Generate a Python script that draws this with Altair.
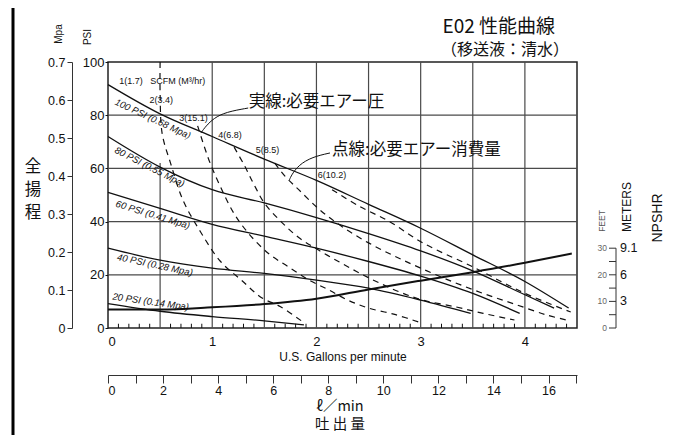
import altair as alt
import pandas as pd

# ---------------- values ----------------
gpm_tick_labels = [0, 1, 2, 3, 4]
psi_tick_labels = [0, 20, 40, 60, 80, 100]
mpa_tick_labels = [0, 0.1, 0.2, 0.3, 0.4, 0.5, 0.6, 0.7]
lpm_ticks = list(range(0, 18))
grid_gpm = [0.5, 1, 1.5, 2, 2.5, 3, 3.5, 4]
grid_gpm_top = [62, 100, 100, 100, 100, 100, 100, 100]
grid_psi = [20, 40, 60, 80]
minor_gpm = [i / 10 for i in range(1, 45) if i % 5]
npshr_feet_ticks = [0, 5, 10, 15, 20, 25, 30]
npshr_feet_labels = [0, 10, 20, 30]
npshr_meter_labels = ["3", "6", "9.1"]
npshr_meter_at = [10, 20, 30]

# solid curves: required air pressure (head in PSI vs U.S. GPM)
psi100_x = [0, 0.5, 1, 1.5, 2, 2.5, 3, 3.5, 4, 4.42]
psi100_y = [91.5, 80.5, 72, 63.5, 55.5, 46.5, 37.5, 27.5, 17.5, 7.5]
psi80_x = [0, 0.5, 1, 1.5, 2, 2.5, 3, 3.5, 4, 4.28]
psi80_y = [72, 60.5, 52, 47, 41.5, 35.5, 29, 21.5, 12.5, 7.5]
psi60_x = [0, 0.5, 1, 1.5, 2, 2.5, 3, 3.5, 3.95]
psi60_y = [51, 45, 39, 34.5, 30, 25, 19.5, 13, 5.5]
psi40_x = [0, 0.5, 1, 1.5, 2, 2.5, 3, 3.48]
psi40_y = [30, 25.5, 22.5, 20.5, 18, 15, 10.5, 5.5]
psi20_x = [0, 0.5, 1, 1.5, 1.88]
psi20_y = [9.2, 6.3, 4.3, 2.7, 1.2]
npshr_x = [0, 0.5, 1, 1.5, 2, 2.5, 3, 3.5, 4, 4.45]
npshr_y = [7, 7, 7.8, 9, 11, 14.5, 17.8, 21, 24.5, 28]

# dashed curves: air consumption
air1_x = [0.5, 0.5, 0.52, 0.6, 0.72, 0.89, 1.08, 1.28, 1.47, 1.66, 1.88]
air1_y = [100, 88, 73, 62, 48, 36, 25, 18, 11.5, 7.9, 2]
air2_x = [0.86, 0.97, 1.08, 1.21, 1.35, 1.54, 1.73, 1.93, 2.12, 2.3, 2.5, 2.76, 3.0]
air2_y = [76, 63, 53, 43, 35.5, 28, 23, 18, 14.3, 10.5, 7.5, 5, 2]
air3_x = [1.21, 1.31, 1.4, 1.5, 1.66, 1.83, 2.02, 2.22, 2.41, 2.6, 2.8, 3.02, 3.34, 3.6, 3.9]
air3_y = [68, 61, 54, 47, 40, 34, 29.3, 24.8, 20.7, 17, 13.5, 10.5, 7.9, 5.5, 3]
air4_x = [1.6, 1.7, 1.83, 2.03, 2.25, 2.5, 2.75, 3.0, 3.3, 3.6, 3.9, 4.2, 4.4]
air4_y = [62, 57, 52, 44.5, 38, 32, 27, 22.5, 17.5, 13, 9, 5, 3]
air5_x = [2.15, 2.4, 2.7, 3.02, 3.5, 3.99, 4.44]
air5_y = [52, 46, 40, 32, 23, 13.2, 6]

curve_label_text = ["100 PSI (0.68 Mpa)", "80 PSI (0.55 Mpa)", "60 PSI (0.41 Mpa)",
                    "40 PSI (0.28 Mpa)", "20 PSI (0.14 Mpa)"]
curve_label_x = [0.43, 0.40, 0.43, 0.45, 0.41]
curve_label_y = [78.6, 60.5, 42.5, 23.7, 9.8]
curve_label_angle = [25, 27, 17, 12, 8]

scfm_text = ["1(1.7)", "SCFM (M³/hr)", "2(3.4)", "3(15.1)", "4(6.8)", "5(8.5)", "6(10.2)"]
scfm_x = [0.22, 0.67, 0.51, 0.82, 1.17, 1.53, 2.15]
scfm_y = [92.9, 92.9, 85.7, 79, 72.6, 66.9, 57.5]

lead1_x = [1.345, 1.132, 1.016, 0.939, 0.891]
lead1_y = [82.7, 81.2, 78.9, 75.9, 73.3]
lead2_x = [2.13, 1.96, 1.83, 1.76, 1.74]
lead2_y = [65.8, 64.3, 61.3, 57.5, 55.6]

# ---------------- styling ----------------
W, H = 469, 266
SANS = "Liberation Sans"
JP = "Noto Sans CJK JP"
INK = "#111111"
GRID = "#4a4a4a"
LPM_PER_GPM = 3.78541

xs = alt.Scale(domain=[0, 4.5], nice=False, zero=False)
ys = alt.Scale(domain=[0, 100], nice=False, zero=False)
one = pd.DataFrame({"a": [0]})


def XQ(field="x", axis=None):
    return alt.X(field, type="quantitative", scale=xs, axis=axis)


def YQ(field="y", axis=None):
    return alt.Y(field, type="quantitative", scale=ys, axis=axis)


def curves_df(items):
    rows = []
    for name, xv, yv in items:
        for i, (a, b) in enumerate(zip(xv, yv)):
            rows.append({"s": name, "i": i, "x": a, "y": b})
    return pd.DataFrame(rows)


def px_text(text, px, py, size, font=SANS, angle=0, align="center", color=INK, baseline="middle", **kw):
    return alt.Chart(one).mark_text(text=text, fontSize=size, font=font, angle=angle,
                                    align=align, baseline=baseline, color=color, **kw).encode(
        x=alt.value(px), y=alt.value(py))


layers = []

# grid + main axes
layers.append(alt.Chart(pd.DataFrame({"x": grid_gpm, "y": [0] * len(grid_gpm), "y2": grid_gpm_top})).mark_rule(
    color=GRID, strokeWidth=1.2).encode(
    x=XQ("x", alt.Axis(orient="bottom", values=gpm_tick_labels, format="d", ticks=False, domain=False,
                       grid=False, labelFont=SANS, labelFontSize=13, labelColor=INK, labelPadding=7,
                       title="U.S. Gallons per minute", titleFont=SANS, titleFontSize=12,
                       titleFontWeight="normal", titleColor=INK, titlePadding=3)),
    y=YQ("y"), y2="y2:Q"))
layers.append(alt.Chart(pd.DataFrame({"y": grid_psi})).mark_rule(color=GRID, strokeWidth=1.2).encode(
    y=YQ("y", alt.Axis(orient="left", values=psi_tick_labels, format="d", tickSize=3, tickColor=INK,
                       domain=False, grid=False, labelFont=SANS, labelFontSize=13, labelColor=INK,
                       labelPadding=1, title=None))))

# Mpa axis
layers.append(alt.Chart(pd.DataFrame({"m": mpa_tick_labels})).mark_point(opacity=0).encode(
    y=alt.Y("m:Q", scale=alt.Scale(domain=[0, 0.7], nice=False, zero=False),
            axis=alt.Axis(orient="left", offset=36, values=mpa_tick_labels,
                          labelExpr="datum.value == 0 ? '0' : format(datum.value, '.1f')",
                          tickSize=5, tickColor="#333", domainColor="#333", domainWidth=1,
                          grid=False, labelFont=SANS, labelFontSize=12.5, labelColor=INK,
                          labelPadding=2, title=None))))

# l/min axis
layers.append(alt.Chart(pd.DataFrame({"l": lpm_ticks})).mark_point(opacity=0).encode(
    x=alt.X("l:Q", scale=alt.Scale(domain=[0, 4.5 * LPM_PER_GPM], nice=False, zero=False),
            axis=alt.Axis(orient="bottom", offset=47, values=lpm_ticks, format="d",
                          labelExpr="datum.value % 2 == 0 ? datum.label : ''",
                          tickSize=8, tickColor="#333", domainColor="#333", domainWidth=1.2,
                          grid=False, labelFont=SANS, labelFontSize=12.5, labelColor=INK,
                          labelPadding=1, title=None))))

# minor ticks inside bottom
layers.append(alt.Chart(pd.DataFrame({"x": minor_gpm, "y": [0] * len(minor_gpm),
                                      "y2": [1.6] * len(minor_gpm)})).mark_rule(
    color=INK, strokeWidth=1).encode(x=XQ("x"), y=YQ("y"), y2="y2:Q"))

# solid pressure curves
solid = curves_df([("100", psi100_x, psi100_y), ("80", psi80_x, psi80_y), ("60", psi60_x, psi60_y),
                   ("40", psi40_x, psi40_y), ("20", psi20_x, psi20_y)])
layers.append(alt.Chart(solid).mark_line(color=INK, strokeWidth=1.3, interpolate="monotone").encode(
    x=XQ(), y=YQ(), detail="s:N", order="i:Q"))

# NPSHR curve
layers.append(alt.Chart(curves_df([("npshr", npshr_x, npshr_y)])).mark_line(
    color=INK, strokeWidth=2, interpolate="monotone").encode(x=XQ(), y=YQ(), order="i:Q"))

# dashed air-consumption curves
dashed = curves_df([("a1", air1_x, air1_y), ("a2", air2_x, air2_y), ("a3", air3_x, air3_y),
                    ("a4", air4_x, air4_y), ("a5", air5_x, air5_y)])
layers.append(alt.Chart(dashed).mark_line(color=INK, strokeWidth=1.2, strokeDash=[6, 5],
                                          interpolate="catmull-rom").encode(
    x=XQ(), y=YQ(), detail="s:N", order="i:Q"))

# leader lines
layers.append(alt.Chart(curves_df([("l1", lead1_x, lead1_y), ("l2", lead2_x, lead2_y)])).mark_line(
    color=INK, strokeWidth=1, interpolate="basis").encode(x=XQ(), y=YQ(), detail="s:N", order="i:Q"))

# curve labels
layers.append(alt.Chart(pd.DataFrame({"t": curve_label_text, "x": curve_label_x, "y": curve_label_y,
                                      "a": curve_label_angle})).mark_text(
    font=SANS, fontSize=9.5, color=INK, fontStyle="italic").encode(
    x=XQ(), y=YQ(), text="t:N", angle=alt.Angle("a:Q", scale=None)))

# SCFM labels
layers.append(alt.Chart(pd.DataFrame({"t": scfm_text, "x": scfm_x, "y": scfm_y})).mark_text(
    font=SANS, fontSize=9, color=INK).encode(x=XQ(), y=YQ(), text="t:N"))

# Japanese annotations inside the plot
layers.append(alt.Chart(pd.DataFrame({"t": ["実線:必要エアー圧", "点線:必要エアー消費量"],
                                      "x": [1.35, 2.15], "y": [85, 66.9]})).mark_text(
    font=JP, fontSize=16.5, color=INK, align="left").encode(x=XQ(), y=YQ(), text="t:N"))

# NPSHR axis
layers.append(alt.Chart(pd.DataFrame({"y": [0], "y2": [30]})).mark_rule(color="#333", strokeWidth=1).encode(
    x=alt.value(508), y=YQ("y"), y2="y2:Q"))
layers.append(alt.Chart(pd.DataFrame({"y": npshr_feet_ticks})).mark_rule(color="#333", strokeWidth=1).encode(
    x=alt.value(501), x2=alt.value(508), y=YQ("y")))
layers.append(alt.Chart(pd.DataFrame({"y": npshr_feet_labels})).mark_text(
    font=SANS, fontSize=8.5, color="#666", align="right").encode(x=alt.value(499), y=YQ("y"), text="y:Q"))
layers.append(alt.Chart(pd.DataFrame({"y": npshr_meter_at, "t": npshr_meter_labels})).mark_text(
    font=SANS, fontSize=12.5, color=INK, align="left").encode(x=alt.value(512), y=YQ("y"), text="t:N"))

# outside texts
layers += [
    px_text("Mpa", -49, -28, 10, angle=270),
    px_text("PSI", -20, -25, 10, angle=270),
    px_text("全", -75, 105, 16.5, font=JP),
    px_text("揚", -75, 128, 16.5, font=JP),
    px_text("程", -75, 151, 16.5, font=JP),
    px_text("E02 性能曲線", 447, -35, 19, font=JP, align="right"),
    px_text("（移送液：清水）", 461, -12, 16, font=JP, align="right"),
    px_text(["ℓ／min", "吐 出 量"], 232, 338, 14.5, font=JP, baseline="top", lineHeight=18),
    px_text("FEET", 494, 159, 8.5, angle=270, color="#555"),
    px_text("METERS", 519, 145, 12, angle=270),
    px_text("NPSHR", 550, 156, 14, angle=270),
]

# outer frame
layers.append(alt.Chart(one).mark_rule(color="#000", strokeWidth=3).encode(
    x=alt.value(-95), y=alt.value(-55), y2=alt.value(400)))
layers.append(alt.Chart(one).mark_rule(color="#000", strokeWidth=2).encode(
    x=alt.value(-96), x2=alt.value(557), y=alt.value(-55)))

chart = alt.layer(*layers).resolve_scale(x="independent", y="independent").properties(
    width=W, height=H,
    autosize=alt.AutoSizeParams(type="none"),
    padding={"left": 100, "top": 54, "right": 88, "bottom": 107},
    background="white",
).configure_view(stroke="#222", strokeWidth=1.5)

chart.save("out.html", embed_options={"renderer": "svg", "actions": False})
